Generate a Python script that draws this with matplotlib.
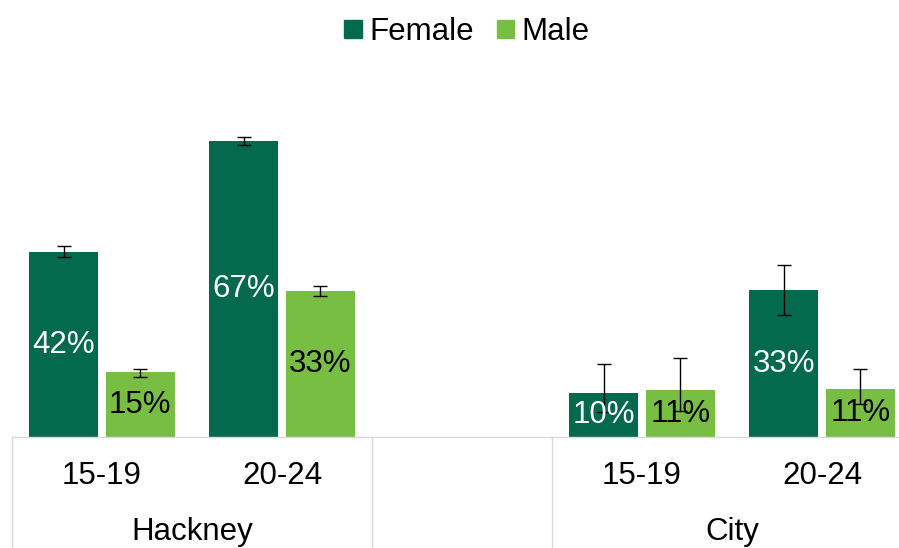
import matplotlib
matplotlib.use("Agg")
import matplotlib.pyplot as plt
import matplotlib.transforms as mtransforms
from matplotlib.lines import Line2D
from matplotlib.patches import Patch
import numpy as np

plt.rcParams['font.family'] = ['Liberation Sans', 'DejaVu Sans']

areas = ["Hackney", "City"]
ages = ["15-19", "20-24"]
series = ["Female", "Male"]

female = {"Hackney": [42.0, 67.3], "City": [10.1, 33.4]}
male = {"Hackney": [14.7, 33.1], "City": [10.6, 10.8]}
female_err_low = {"Hackney": [1.0, 1.0], "City": [4.5, 5.7]}
female_err_high = {"Hackney": [1.3, 0.85], "City": [6.6, 5.7]}
male_err_low = {"Hackney": [1.0, 1.07], "City": [4.6, 3.3]}
male_err_high = {"Hackney": [0.8, 1.2], "City": [7.3, 4.7]}

# slot layout: Hackney slots 0,1 ; empty slot 2 ; City slots 3,4
area_slots = {"Hackney": [0, 1], "City": [3, 4]}
group_bounds = [-0.5, 1.5, 2.5, 4.5]

c_f = "#036A4E"
c_m = "#78BE43"

W, H = 899, 548
fig = plt.figure(figsize=(W / 100, H / 100), dpi=100)
ax_left = 12 / W
ax_w = 900 / W
ax_bottom = (H - 437) / H
ax_h = (437 - 85) / H
ax = fig.add_axes([ax_left, ax_bottom, ax_w, ax_h])

bw = 0.386
off = 0.213
fs = 22.5
for area in areas:
    xs = np.array(area_slots[area], dtype=float)
    fv = np.array(female[area]); mv = np.array(male[area])
    ax.bar(xs - off, fv, bw, color=c_f, zorder=2)
    ax.bar(xs + off, mv, bw, color=c_m, zorder=2)
    ax.errorbar(xs - off, fv, yerr=[female_err_low[area], female_err_high[area]],
                fmt='none', ecolor='black', elinewidth=1, capsize=5, capthick=1, zorder=3)
    ax.errorbar(xs + off, mv, yerr=[male_err_low[area], male_err_high[area]],
                fmt='none', ecolor='black', elinewidth=1, capsize=5, capthick=1, zorder=3)
    for x, v in zip(xs - off, fv):
        ax.text(x, v / 2, f"{v:.0f}%", ha='center', va='center', color='white', fontsize=fs, zorder=4)
    for x, v in zip(xs + off, mv):
        ax.text(x, v / 2, f"{v:.0f}%", ha='center', va='center', color='black', fontsize=fs, zorder=4)

ax.set_xlim(-0.5, 4.5)
ax.set_ylim(0, 80)
ax.set_xticks([])
ax.set_yticks([])
for s in ['top', 'right', 'left']:
    ax.spines[s].set_visible(False)
ax.spines['bottom'].set_color('#D9D9D9')
ax.spines['bottom'].set_linewidth(1)

trans = mtransforms.blended_transform_factory(ax.transData, fig.transFigure)
for b in group_bounds:
    fig.add_artist(Line2D([b, b], [0, ax_bottom], transform=trans, color='#D9D9D9', lw=1))

for area in areas:
    for s, age in zip(area_slots[area], ages):
        ax.text(s, (H - 476) / H, age, transform=trans, fontsize=fs, ha='center', va='center')
    ax.text(np.mean(area_slots[area]), (H - 532) / H, area, transform=trans, fontsize=fs, ha='center', va='center')

handles = [Patch(color=c_f, label="Female"), Patch(color=c_m, label="Male")]
fig.legend(handles=handles, loc='center', bbox_to_anchor=(467 / W, (H - 32) / H), ncol=2, frameon=False,
           fontsize=fs, handlelength=0.55, handleheight=0.55, handletextpad=0.25, columnspacing=0.72)

fig.savefig("out.png", dpi=100)
